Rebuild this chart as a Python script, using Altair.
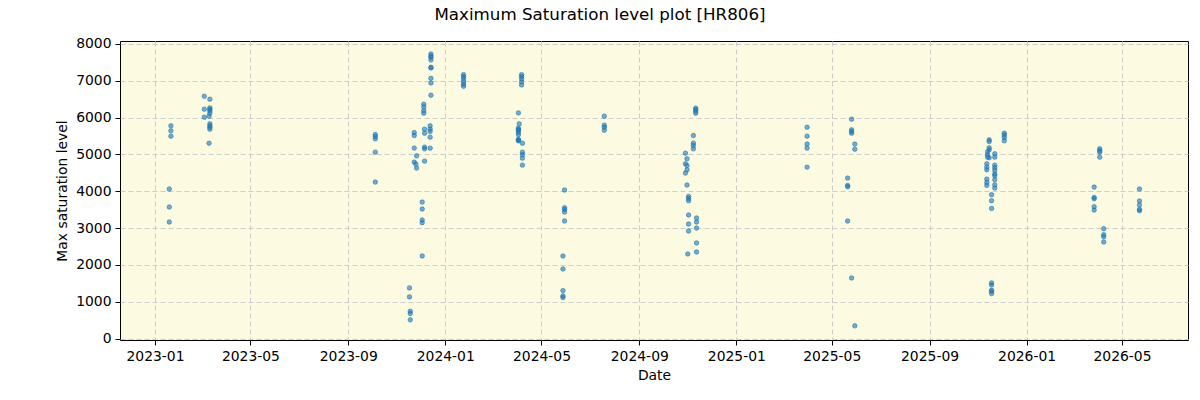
import altair as alt
import pandas as pd

obs_dates = (
    ["2023-01-21"] * 3 + ["2023-01-19"] * 3
    + ["2023-03-04"] * 3 + ["2023-03-11"] * 9 + ["2023-03-10"] * 2
    + ["2023-10-05"] * 5
    + ["2023-11-17"] * 2 + ["2023-11-18"] * 3
    + ["2023-11-23"] * 4 + ["2023-11-25"] * 1 + ["2023-11-26"] * 2
    + ["2023-12-03"] * 5
    + ["2023-12-05"] * 4 + ["2023-12-06"] * 5
    + ["2023-12-14"] * 9 + ["2023-12-13"] * 5
    + ["2024-01-24"] * 6
    + ["2024-04-06"] * 5 + ["2024-04-02"] * 1 + ["2024-04-03"] * 1 + ["2024-04-02"] * 8 + ["2024-04-07"] * 5
    + ["2024-05-30"] * 5 + ["2024-05-28"] * 5
    + ["2024-07-19"] * 4
    + ["2024-10-29"] * 3 + ["2024-10-31"] * 4 + ["2024-11-02"] * 6 + ["2024-11-01"] * 1
    + ["2024-11-08"] * 4 + ["2024-11-11"] * 4 + ["2024-11-12"] * 5
    + ["2025-03-31"] * 5
    + ["2025-05-21"] * 4 + ["2025-05-26"] * 5 + ["2025-05-30"] * 3
    + ["2025-11-15"] * 5 + ["2025-11-13"] * 3 + ["2025-11-12"] * 6 + ["2025-11-18"] * 8
    + ["2025-11-22"] * 10 + ["2025-12-04"] * 4
    + ["2026-03-27"] * 5 + ["2026-04-03"] * 4 + ["2026-04-08"] * 4 + ["2026-05-23"] * 5
)

max_levels = (
    [5776, 5640, 5496, 4059, 3571, 3164]
    + [6580, 6229, 6011, 6500, 6264, 6229, 6182, 6120, 5830, 5776, 5740, 5686, 6038, 5306]
    + [5540, 5486, 5423, 5062, 4249]
    + [1375, 1131, 741, 678, 507]
    + [5594, 5513, 5171, 4791, 4737, 4962, 4629]
    + [3706, 3516, 3218, 3145, 2242]
    + [6364, 6291, 6190, 6120, 5686, 5577, 5198, 5152, 4818]
    + [7728, 7674, 7637, 7565, 7367, 7348, 7069, 6941, 6608, 5776, 5686, 5622, 5469, 5170]
    + [7167, 7113, 7058, 6977, 6906, 6852]
    + [7167, 7113, 7049, 6968, 6887, 6128, 5830, 5713, 5680, 5649, 5594, 5531, 5404, 5390, 5369,
       5306, 5062, 4990, 4899, 4709]
    + [4032, 3552, 3507, 3435, 3191, 2242, 1889, 1301, 1157, 1112]
    + [6038, 5794, 5740, 5659]
    + [5034, 4493, 4745, 4880, 4700, 4582, 4168, 3859, 3805, 3742, 3354, 3110, 2920, 2296]
    + [5513, 5306, 5243, 5152, 6256, 6220, 6174, 6120, 3272, 3164, 2999, 2595, 2351]
    + [5740, 5496, 5280, 5171, 4655]
    + [4357, 4159, 4122, 3191, 5957, 5667, 5622, 5576, 1646, 5280, 5143, 344]
    + [5396, 5350, 5179, 5125, 4908, 5070, 4990, 4926, 4745, 4655, 4582, 4330, 4240, 4159,
       3905, 3742, 3534, 1511, 1456, 1311, 1284, 1220]
    + [5016, 4926, 4709, 4637, 4564, 4466, 4420, 4311, 4176, 4086, 5576, 5530, 5458, 5369]
    + [4113, 3833, 3796, 3579, 3489, 5152, 5106, 5061, 4926, 2983, 2820, 2766, 2622,
       4059, 3734, 3625, 3507, 3471]
)

tick_months = [(2023, 1), (2023, 5), (2023, 9), (2024, 1), (2024, 5), (2024, 9),
               (2025, 1), (2025, 5), (2025, 9), (2026, 1), (2026, 5)]
y_ticks = [0, 1000, 2000, 3000, 4000, 5000, 6000, 7000, 8000]

df = pd.DataFrame({"date": obs_dates, "level": max_levels})

FONT = "DejaVu Sans"

x_axis = alt.Axis(
    values=[alt.DateTime(year=y, month=m, date=1, utc=True) for y, m in tick_months],
    format="%Y-%m",
    title="Date",
    titleY=35,
    titleBaseline="middle",
)
y_axis = alt.Axis(
    values=y_ticks,
    format="d",
    title="Max saturation level",
    titleX=-58,
    titleY=149.5,
    titleAngle=270,
    titleBaseline="middle",
)

chart = (
    alt.Chart(df)
    .mark_circle(
        size=20,
        color="#1f77b4",
        fillOpacity=0.6,
        stroke="#1f77b4",
        strokeOpacity=0.6,
        strokeWidth=1,
    )
    .encode(
        x=alt.X(
            "date:T",
            scale=alt.Scale(
                type="utc",
                domain=[
                    alt.DateTime(year=2022, month=11, date=18, utc=True),
                    alt.DateTime(year=2026, month=7, date=23, utc=True),
                ],
                nice=False,
            ),
            axis=x_axis,
        ),
        y=alt.Y(
            "level:Q",
            scale=alt.Scale(domain=[-40, 8080], nice=False, zero=False),
            axis=y_axis,
        ),
    )
    .properties(
        width=1068,
        height=299,
        autosize=alt.AutoSizeParams(type="none"),
        padding={"left": 120, "top": 41, "right": 12, "bottom": 60},
        background="white",
        title=alt.TitleParams(
            "Maximum Saturation level plot [HR806]",
            font=FONT,
            fontSize=16.7,
            fontWeight="normal",
            color="black",
            anchor="middle",
            frame="group",
            dx=-54,
            offset=13,
        ),
    )
    .configure_view(fill="#fcfbe1", stroke="black", strokeWidth=1)
    .configure_axis(
        domain=False,
        grid=True,
        gridColor="#cccccc",
        gridDash=[5, 3],
        gridWidth=1,
        ticks=True,
        tickColor="black",
        tickSize=5,
        tickWidth=1,
        labelFont=FONT,
        labelFontSize=13.9,
        labelColor="black",
        labelPadding=4,
        titleFont=FONT,
        titleFontSize=13.9,
        titleFontWeight="normal",
        titleColor="black",
    )
)

chart.save("out.html", embed_options={"renderer": "svg", "actions": False})
